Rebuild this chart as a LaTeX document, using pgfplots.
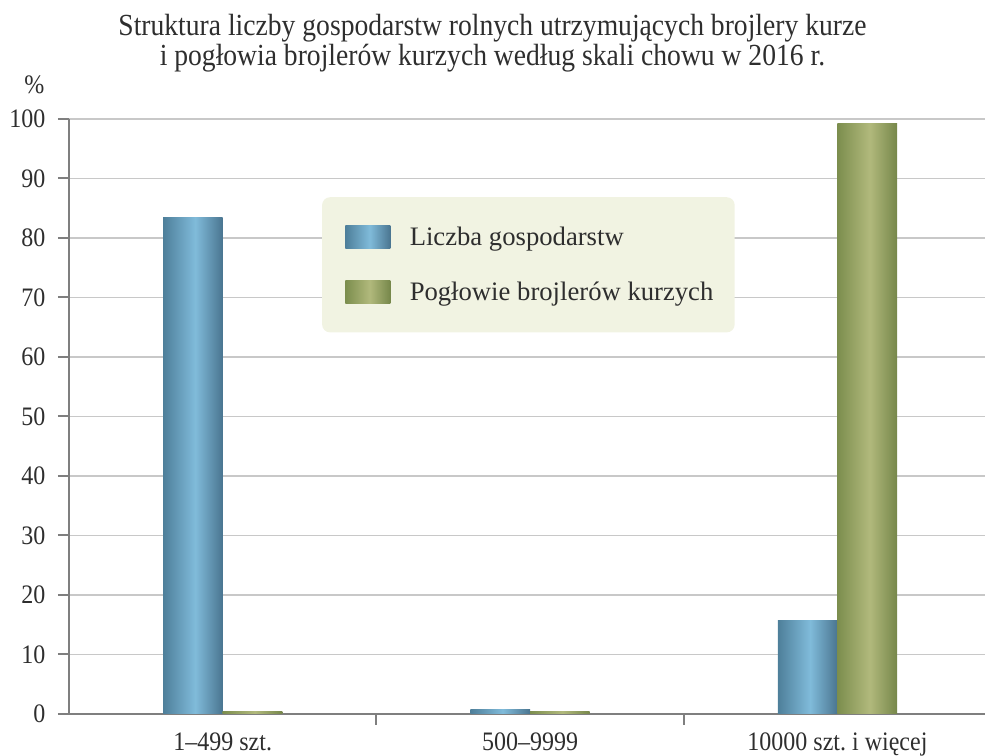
\documentclass[border=0pt]{standalone}
\usepackage{pgfplots}
\pgfplotsset{compat=1.18}
\usepackage{fontspec}
\setmainfont{Liberation Serif}
\newfontfamily\cond[FakeStretch=0.9]{Liberation Serif}
\definecolor{txt}{HTML}{2E2E2E}
\definecolor{axgray}{HTML}{7F7F7F}
\definecolor{gridgray}{HTML}{C8C8C8}
\definecolor{legbg}{HTML}{F1F3E2}
\definecolor{bdL}{HTML}{4E7F9A}
\definecolor{bC}{HTML}{80BBDA}
\definecolor{bdR}{HTML}{4A7590}
\definecolor{gdL}{HTML}{7C8E4E}
\definecolor{gC}{HTML}{B1B97C}
\definecolor{gdR}{HTML}{76874A}
\pgfdeclarehorizontalshading{blueshade}{100bp}{color(0bp)=(bdL); color(25bp)=(bdL); color(52bp)=(bC); color(75bp)=(bdR); color(100bp)=(bdR)}
\pgfdeclarehorizontalshading{greenshade}{100bp}{color(0bp)=(gdL); color(25bp)=(gdL); color(52bp)=(gC); color(75bp)=(gdR); color(100bp)=(gdR)}
\pgfplotsset{
  bluebar/.style={draw=none, shading=blueshade, bar shift=-0.097},
  greenbar/.style={draw=none, shading=greenshade, bar shift=0.097},
}
\begin{document}
\begin{tikzpicture}
\begin{axis}[
  scale only axis,
  width=687pt, height=446.25pt,
  xmin=-0.5, xmax=2.48,
  ymin=0, ymax=100,
  ybar=0pt, bar width=0.194,
  axis x line*=bottom, axis y line*=left,
  axis line style={draw=axgray, line width=1.5pt},
  xtick={0,1,2},
  xticklabels={1–499 szt., 500–9999, 10000 szt.\ i więcej},
  x tick style={draw=none},
  extra x ticks={0.5,1.5},
  extra x tick labels={},
  extra x tick style={x tick style={draw=axgray, line width=1.5pt}, tick align=outside, grid=none},
  ytick={0,10,...,100},
  y tick style={draw=axgray, line width=1.5pt},
  tick align=outside,
  major tick length=8.25pt,
  ymajorgrids,
  major grid style={draw=gridgray, line width=0.8pt},
  tick label style={font=\cond\fontsize{20pt}{23pt}\selectfont, text=txt},
  /pgf/number format/assume math mode=true,
  xticklabel style={yshift=-2pt},
  yticklabel style={xshift=-6pt},
  title={Struktura liczby gospodarstw rolnych utrzymujących brojlery kurze\\i pogłowia brojlerów kurzych według skali chowu w 2016 r.},
  title style={at={(0.4623,1)}, anchor=south, align=center, yshift=25.5pt, font=\cond\fontsize{23pt}{22.5pt}\selectfont, text=txt},
  ylabel={\%},
  every axis y label/.style={at={(rel axis cs:0,1)}, anchor=center, xshift=-26pt, yshift=25.5pt, font=\cond\fontsize{20pt}{23pt}\selectfont, text=txt},
  legend style={at={(0.276,0.869)}, anchor=north west, fill=legbg, draw=none, rounded corners=6pt,
    font=\fontsize{20pt}{23pt}\selectfont, text=txt, inner xsep=14pt, inner ysep=20.5pt, row sep=21.6pt, column sep=12.5pt},
  legend cell align=left,
  legend image code/.code={\path (0pt,0pt); \path[#1, sharp corners] (3.5pt,-8.6pt) rectangle (37.25pt,8.6pt);},
  clip=false,
]
\coordinate (bl) at (rel axis cs:0,0);
\addplot[bluebar] coordinates {(0,83.5)};
\addplot[greenbar] coordinates {(0,0.4)};
\addplot[bluebar, forget plot] coordinates {(1,0.8)};
\addplot[bluebar, forget plot] coordinates {(2,15.7)};
\addplot[greenbar, forget plot] coordinates {(1,0.4)};
\addplot[greenbar, forget plot] coordinates {(2,99.2)};
\legend{Liczba gospodarstw, Pogłowie brojlerów kurzych}
\end{axis}
\pgfresetboundingbox
\path (bl) ++(-51.75pt,-31.5pt) rectangle ++(738.75pt,567pt);
\end{tikzpicture}
\end{document}
